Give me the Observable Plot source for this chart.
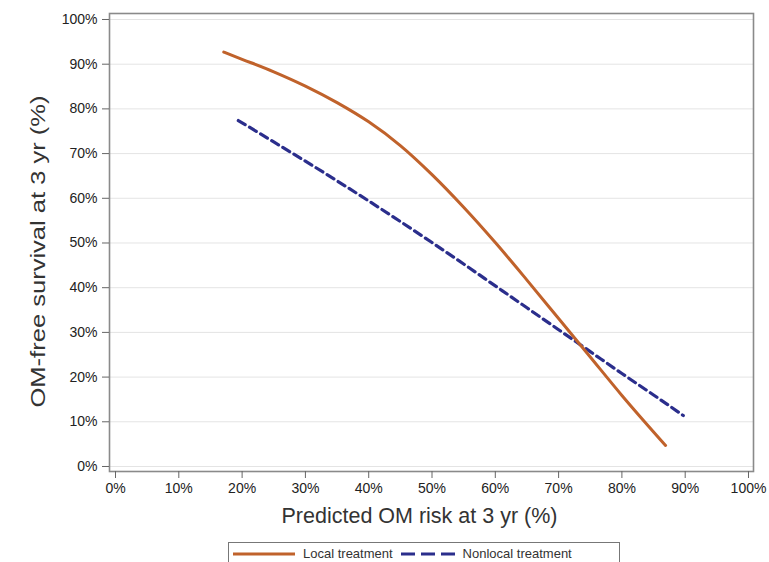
<!DOCTYPE html>
<html>
<head>
<meta charset="utf-8">
<script src="https://cdn.jsdelivr.net/npm/d3@7"></script>
<script src="https://cdn.jsdelivr.net/npm/@observablehq/plot@0.6"></script>
<style>
  body { margin: 0; background: #fff; font-family: "Liberation Sans", Arial, sans-serif; }
  #legend {
    position: relative; width: 769px; height: 22px; overflow: hidden;
  }
  #legend .box {
    position: absolute; left: 228px; top: 2px; width: 392px; height: 30px;
    border: 1.5px solid #777; box-sizing: border-box;
    display: flex; align-items: flex-start; padding-top: 3px; padding-left: 4px;
    font-size: 13px; color: #333; white-space: nowrap;
  }
  #legend .item { display: flex; align-items: center; margin-right: 8px; }
  #legend svg { margin-right: 8px; }
</style>
</head>
<body>
<div id="chart"></div>
<div id="legend"></div>
<script>
// Predicted OM risk at 3 years (%) and OM-free survival at 3 years (%)
const localRisk     = [17.1, 20, 25, 30, 35, 40, 45, 50, 55, 60, 65, 70, 75, 80, 86.9];
const localSurv     = [92.7, 91.1, 88.3, 85.1, 81.4, 77.1, 71.8, 65.3, 58.0, 50.1, 41.7, 33.1, 24.5, 15.9, 4.7];
const nonlocalRisk  = [19.4, 25, 30, 35, 40, 45, 50, 55, 60, 65, 70, 75, 80, 85, 89.7];
const nonlocalSurv  = [77.4, 72.6, 68.3, 63.9, 59.4, 54.8, 50.1, 45.3, 40.4, 35.5, 30.6, 25.7, 20.8, 16.0, 11.4];
const tickValues    = [0, 10, 20, 30, 40, 50, 60, 70, 80, 90, 100];
const seriesNames   = ["Local treatment", "Nonlocal treatment"];
const seriesColors  = ["#c0622b", "#2b2e8c"];

const local = localRisk.map((x, i) => ({x, y: localSurv[i]}));
const nonlocal = nonlocalRisk.map((x, i) => ({x, y: nonlocalSurv[i]}));

const chart = Plot.plot({
  width: 769,
  height: 540,
  marginLeft: 109,
  marginRight: 16,
  marginTop: 13,
  marginBottom: 69,
  style: {fontFamily: "Liberation Sans, Arial, sans-serif", fontSize: "14px", color: "#222", background: "#fff"},
  x: {domain: [-0.95, 100.79]},
  y: {domain: [-1.12, 101.34]},
  marks: [
    Plot.gridY(tickValues, {stroke: "#e4e4e4", strokeOpacity: 1, strokeWidth: 1}),
    Plot.frame({stroke: "#8a8a8a", strokeWidth: 1.6}),
    Plot.axisY(tickValues, {tickFormat: d => d + "%", tickSize: 7, tickPadding: 5, stroke: "#666", label: null}),
    Plot.axisX(tickValues, {tickFormat: d => d + "%", tickSize: 7, tickPadding: 5, stroke: "#666", label: null}),
    Plot.line(nonlocal, {x: "x", y: "y", stroke: seriesColors[1], strokeWidth: 3.2, strokeDasharray: "8,5", curve: "monotone-x"}),
    Plot.line(local, {x: "x", y: "y", stroke: seriesColors[0], strokeWidth: 3, curve: "monotone-x"}),
    Plot.text(["Predicted OM risk at 3 yr (%)"], {frameAnchor: "bottom", dx: -12, dy: 51, fontSize: 21.5, fill: "#333"}),
    Plot.text(["OM-free survival at 3 yr (%)"], {frameAnchor: "left", textAnchor: "middle", dx: -71, dy: 9, rotate: -90, fontSize: 20, fill: "#333", className: "ylabel"})
  ]
});
document.getElementById("chart").appendChild(chart);

// The vertical axis title runs a little longer than its font alone gives
d3.select(chart).selectAll(".ylabel text")
  .attr("textLength", 312)
  .attr("lengthAdjust", "spacingAndGlyphs");

// Legend below the chart
const legend = d3.select("#legend").append("div").attr("class", "box");
const swatchWidths = [62, 54];
const dashes = [null, "14,6"];
seriesNames.forEach((name, i) => {
  const item = legend.append("div").attr("class", "item");
  const sw = item.append("svg").attr("width", swatchWidths[i]).attr("height", 12);
  sw.append("line")
    .attr("x1", 0).attr("x2", swatchWidths[i]).attr("y1", 6).attr("y2", 6)
    .attr("stroke", seriesColors[i]).attr("stroke-width", 3)
    .attr("stroke-dasharray", dashes[i]);
  item.append("span").text(name);
});
</script>
</body>
</html>
